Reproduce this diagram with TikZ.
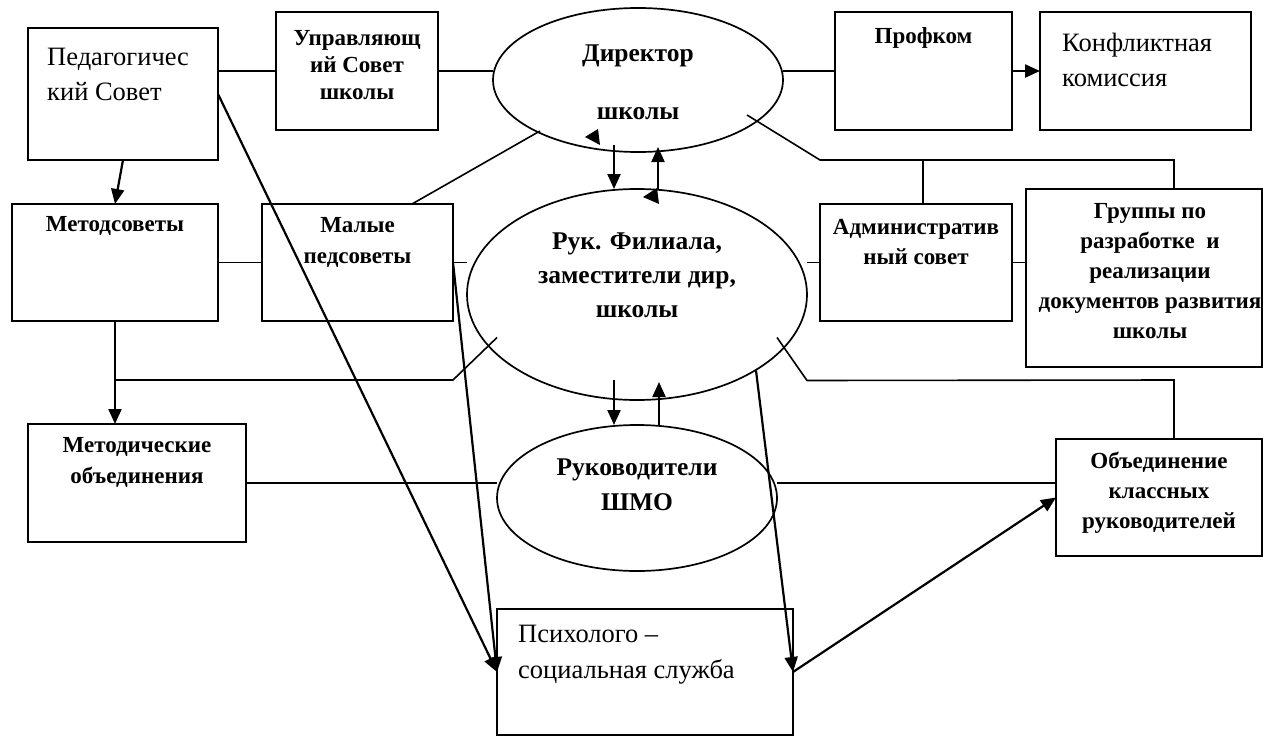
\documentclass[tikz,border=0pt]{standalone}
\usepackage{fontspec}
\setmainfont{Liberation Serif}
\usetikzlibrary{arrows.meta,calc,shapes.geometric}
\begin{document}
\begin{tikzpicture}[x=1pt,y=-1pt,
  box/.style={draw,line width=2pt,inner sep=0pt,outer sep=0pt},
  ell/.style={draw,ellipse,line width=1.7pt,inner sep=0pt,outer sep=0pt},
  btxt/.style={font=\fontsize{23}{31}\selectfont\bfseries,align=center,inner sep=0pt},
  etxt/.style={font=\fontsize{25.5}{35}\selectfont\bfseries,align=center,inner sep=0pt,anchor=center},
  ntxt/.style={font=\fontsize{26.5}{35}\selectfont,align=left,inner sep=0pt},
  conn/.style={line width=1.6pt},
  arr/.style={line width=2.2pt,-{Triangle[length=15pt,width=13pt]}},
  label distance=0pt
]
\useasboundingbox[fill=white] (0,0) rectangle (1263,736);

% boxes
\node[box,minimum width=190pt,minimum height=132pt,
  label={[ntxt,anchor=north west,xshift=19pt,yshift=-20pt]north west:{Педагогичес\\кий Совет}}] (ped) at (123,94) {};
\node[box,minimum width=162pt,minimum height=118pt,
  label={[btxt,font=\fontsize{23}{27}\selectfont\bfseries,anchor=north,yshift=-18pt]north:{Управляющ\\ий Совет\\школы}}] (upr) at (357,71) {};
\node[box,minimum width=177pt,minimum height=118pt,
  label={[btxt,anchor=north,yshift=-15pt]north:{Профком}}] (prof) at (923.5,71) {};
\node[box,minimum width=211pt,minimum height=118pt,
  label={[ntxt,anchor=north west,xshift=22pt,yshift=-21pt]north west:{Конфликтная\\комиссия}}] (konf) at (1145.5,71) {};
\node[box,minimum width=206pt,minimum height=117pt,
  label={[btxt,anchor=north,yshift=-12pt]north:{Методсоветы}}] (metod) at (115,262.5) {};
\node[box,minimum width=191pt,minimum height=117pt,
  label={[btxt,anchor=north,yshift=-13pt]north:{Малые\\педсоветы}}] (malye) at (357.5,262.5) {};
\node[box,minimum width=192pt,minimum height=117pt,
  label={[btxt,font=\fontsize{23}{30}\selectfont\bfseries,anchor=north,yshift=-15pt]north:{Административ\\ный совет}}] (adm) at (916,262.5) {};
\node[box,minimum width=236pt,minimum height=178pt,
  label={[btxt,font=\fontsize{23}{30}\selectfont\bfseries,anchor=north,xshift=6pt,yshift=-14pt]north:{Группы по\\разработке~ и\\реализации\\документов развития\\школы}}] (grup) at (1144,278) {};
\node[box,minimum width=218pt,minimum height=118pt,
  label={[btxt,anchor=north,yshift=-13pt]north:{Методические\\объединения}}] (metob) at (137,483) {};
\node[box,minimum width=206pt,minimum height=117pt,
  label={[btxt,font=\fontsize{23}{30}\selectfont\bfseries,anchor=north,yshift=-13pt]north:{Объединение\\классных\\руководителей}}] (obkl) at (1159,497.5) {};
\node[box,minimum width=296pt,minimum height=126pt,
  label={[ntxt,font=\fontsize{26.5}{36}\selectfont,anchor=north west,xshift=21pt,yshift=-16pt]north west:{Психолого –\\социальная служба}}] (psy) at (645,672) {};

% ellipses
\node[ell,minimum width=290pt,minimum height=144pt,
  label={[etxt,yshift=-2pt]center:{Директор\\[23pt]школы}}] (dir) at (638,80) {};
\node[ell,minimum width=340pt,minimum height=211pt,
  label={[etxt,font=\fontsize{25.5}{34}\selectfont\bfseries,yshift=19pt]center:{Рук. Филиала,\\заместители дир,\\школы}}] (ruk) at (637,294.5) {};
\node[ell,minimum width=280pt,minimum height=146pt,
  label={[etxt,yshift=13pt]center:{Руководители\\ШМО}}] (shmo) at (637,498) {};

% plain connectors
\draw[conn] (upr.west -| ped.east) -- (upr.west);
\draw[conn] (upr.east) -- (upr.east -| dir.west);
\draw[conn] (prof.west -| dir.east) -- (prof.west);
\coordinate (tr) at ($(grup.north)+(30,-29)$);
\draw[conn] ($(dir.center)+(109,35)$) -- ($(dir.center)+(182,80)$) -- (tr) -- (tr |- grup.north);
\draw[conn] ($(adm.north)+(7,0)$) -- ($(adm.north)+(7,-44)$);
\draw[conn] ($(dir.center)+(-98,51)$) -- ($(malye.north east)+(-41,0)$);
\draw[conn] (metod.east) -- (malye.west);
\draw[conn] (malye.east) -- (malye.east -| ruk.west);
\draw[conn] (adm.west -| ruk.east) -- (adm.west);
\draw[conn] (adm.east) -- (adm.east -| grup.west);
\draw[conn] ($(metod.south)+(0,59)$) -- ($(malye.south east)+(0,59)$) -- ($(ruk.center)+(-140,43)$);
\draw[conn] ($(ruk.center)+(140,43)$) -- ($(ruk.center)+(170,86)$) -- ($(obkl.north)+(15,-59)$) -- ($(obkl.north)+(15,0)$);
\draw[conn] (metob.east) -- (metob.east -| shmo.west);
\draw[conn] (shmo.east |- metob.east) -- (obkl.west |- metob.east);

% arrows
\draw[arr] (prof.east) -- (konf.west);
\draw[arr] (ped.south) -- (metod.north);
\draw[arr] (metod.south) -- (metod.south |- metob.north);
\draw[arr] (ped.east) -- (psy.west);
\draw[arr] (malye.east) -- (psy.west);
\draw[arr] ($(ruk.center)+(119,76)$) -- (psy.east);
\draw[arr] (psy.east) -- (obkl.west);
\draw[arr] ($(dir.south)+(-24,-7)$) -- ($(ruk.north)+(-23,0)$);
\draw[arr] ($(ruk.north)+(21,0)$) -- ($(dir.south)+(20,-5)$);
\draw[arr] ($(ruk.south)+(-23,-20)$) -- ($(shmo.north)+(-23,0)$);
\draw[arr] ($(shmo.north)+(22,0)$) -- ($(ruk.south)+(22,-18)$);

% stray arrowheads
\fill (585,137) -- (598,129) -- (600,145) -- cycle;
\fill (643,197) -- (657,188) -- (659,204) -- cycle;
\end{tikzpicture}
\end{document}
